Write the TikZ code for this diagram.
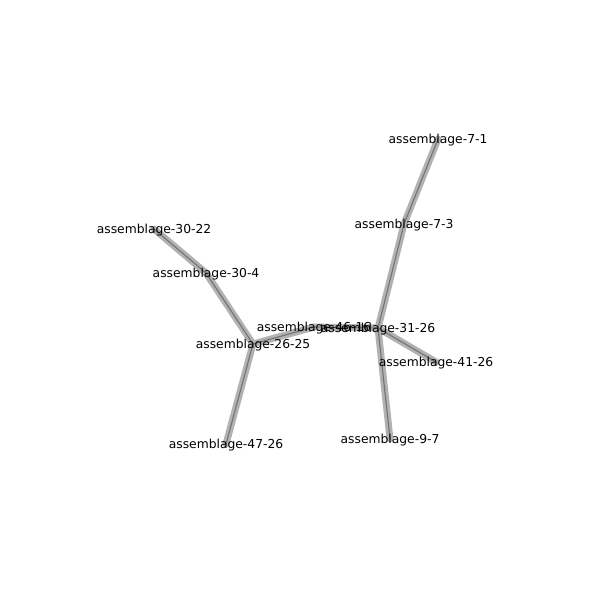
\documentclass[tikz,border=0pt]{standalone}
\usepackage{fontspec}
\setmainfont{DejaVu Sans}
\begin{document}
\begin{tikzpicture}[x=0.01in,y=-0.01in,
  lbl/.style={inner sep=0pt, yshift=-0.01in, font=\fontsize{8.9}{10}\selectfont},
  edgeouter/.style={line width=5pt, draw=black!30, line cap=round},
  edgeinner/.style={line width=0.8pt, draw=black!55, line cap=round}]
\useasboundingbox[fill=white] (0,0) rectangle (600,600);
\coordinate (n71) at (438,139);
\coordinate (n73) at (404,224);
\coordinate (n3126) at (378,328);
\coordinate (n4616) at (314,327);
\coordinate (n2625) at (253,344);
\coordinate (n4126) at (436,362);
\coordinate (n97) at (390,439);
\coordinate (n4726) at (226,444);
\coordinate (n304) at (206,273);
\coordinate (n3022) at (154,229);
\foreach \a/\b in {n71/n73,n73/n3126,n3126/n4616,n4616/n2625,n3126/n4126,n3126/n97,n2625/n4726,n2625/n304,n304/n3022}{
  \draw[edgeouter] (\a) -- (\b);
}
\foreach \a/\b in {n71/n73,n73/n3126,n3126/n4616,n4616/n2625,n3126/n4126,n3126/n97,n2625/n4726,n2625/n304,n304/n3022}{
  \draw[edgeinner] (\a) -- (\b);
}
\node[lbl] (l71) at (n71) {assemblage-7-1};
\node[lbl] (l73) at (n73) {assemblage-7-3};
\node[lbl] (l4616) at (n4616) {assemblage-46-16};
\node[lbl] (l3126) at (n3126) {assemblage-31-26};
\node[lbl] (l2625) at (n2625) {assemblage-26-25};
\node[lbl] (l4126) at (n4126) {assemblage-41-26};
\node[lbl] (l97) at (n97) {assemblage-9-7};
\node[lbl] (l4726) at (n4726) {assemblage-47-26};
\node[lbl] (l304) at (n304) {assemblage-30-4};
\node[lbl] (l3022) at (n3022) {assemblage-30-22};
\end{tikzpicture}
\end{document}
